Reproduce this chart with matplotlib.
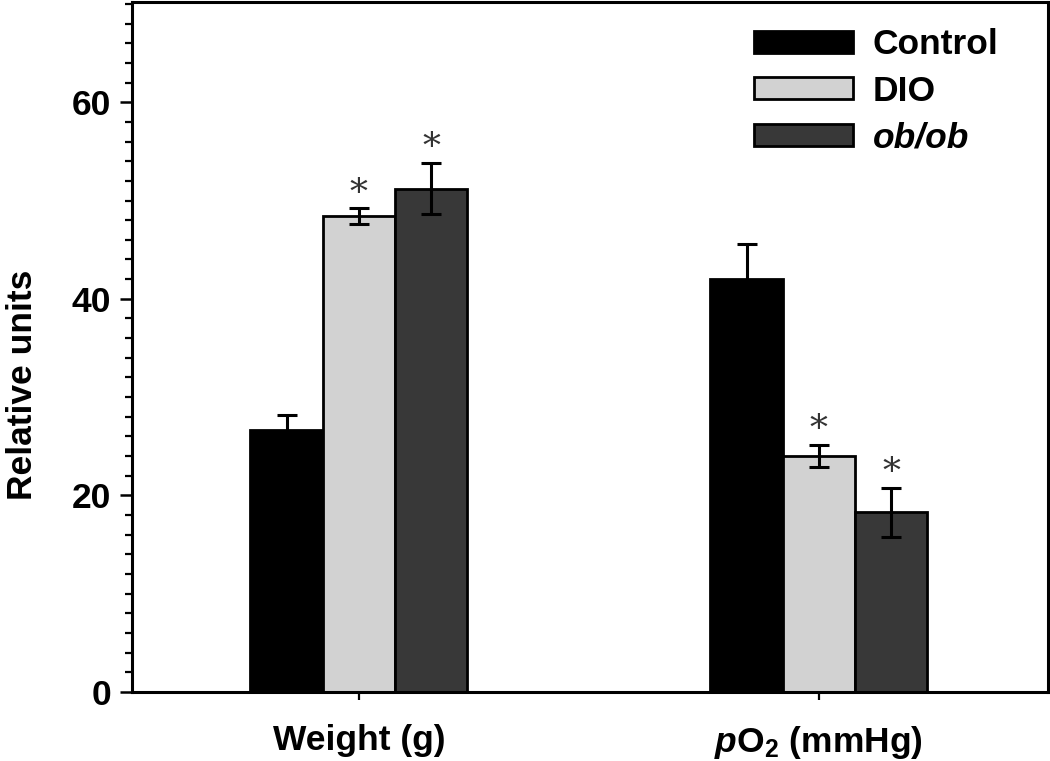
import matplotlib
matplotlib.use('Agg')
import matplotlib.pyplot as plt
from matplotlib.ticker import MultipleLocator
import numpy as np

plt.rcParams['font.family'] = ['Liberation Sans', 'DejaVu Sans']
plt.rcParams['mathtext.fontset'] = 'custom'
plt.rcParams['mathtext.rm'] = 'Liberation Sans:bold'
plt.rcParams['mathtext.it'] = 'Liberation Sans:bold:italic'
plt.rcParams['mathtext.bf'] = 'Liberation Sans:bold'

groups = ['Weight (g)', r'$p$O$_{\mathrm{2}}$ (mmHg)']
series = ['Control', 'DIO', 'ob/ob']
control = [26.7, 42.0]
control_err = [1.5, 3.6]
dio = [48.4, 24.0]
dio_err = [0.8, 1.15]
obob = [51.2, 18.3]
obob_err = [2.6, 2.5]
signif = [[False, False], [True, True], [True, True]]

colors = ['#000000', '#d2d2d2', '#383838']
means = [control, dio, obob]
errs = [control_err, dio_err, obob_err]

fig = plt.figure(figsize=(10.5, 7.61), dpi=100)
ax = fig.add_axes([0.1257, 0.0907, 0.8723, 0.9067])

x = np.arange(len(groups))
w = 0.157
for i in range(3):
    pos = x + (i - 1) * w
    ax.bar(pos, means[i], w, color=colors[i], edgecolor='black', linewidth=2,
           label=series[i], zorder=2)
    ax.errorbar(pos, means[i], yerr=errs[i], fmt='none', ecolor='black',
                elinewidth=2.2, capsize=7.2, capthick=2.2, zorder=3)
    for j in range(len(groups)):
        if signif[i][j]:
            ax.text(pos[j], means[i][j] + errs[i][j] + 1.5, '*', ha='center',
                    va='center', fontsize=26, color='#333333',
                    family='DejaVu Serif', zorder=4)

ax.set_xlim(-0.493, 1.498)
ax.set_ylim(0, 70.2)
ax.yaxis.set_major_locator(MultipleLocator(20))
ax.yaxis.set_minor_locator(MultipleLocator(2))
ax.set_xticks(x)
ax.set_xticklabels(groups, fontsize=25.5, fontweight='bold')
ax.tick_params(axis='x', direction='out', length=6, width=1.6, pad=17)
ax.tick_params(axis='y', which='major', direction='out', length=9, width=1.8,
               labelsize=25.5, pad=6)
ax.tick_params(axis='y', which='minor', direction='out', length=5, width=1.6)
for lab in ax.get_yticklabels():
    lab.set_fontweight('bold')
for s in ax.spines.values():
    s.set_linewidth(2.2)

ax.set_ylabel('Relative units', fontsize=25.5, fontweight='bold')
ax.yaxis.set_label_coords(-0.102, 0.445)

leg = ax.legend(loc='upper left', bbox_to_anchor=(0.679, 0.962), frameon=False,
                fontsize=25.5, handlelength=2.8, handleheight=0.58,
                handletextpad=0.55, labelspacing=0.38, borderpad=0,
                borderaxespad=0)
for t in leg.get_texts():
    t.set_fontweight('bold')
leg.get_texts()[2].set_style('italic')

fig.savefig('out.png', dpi=100)
